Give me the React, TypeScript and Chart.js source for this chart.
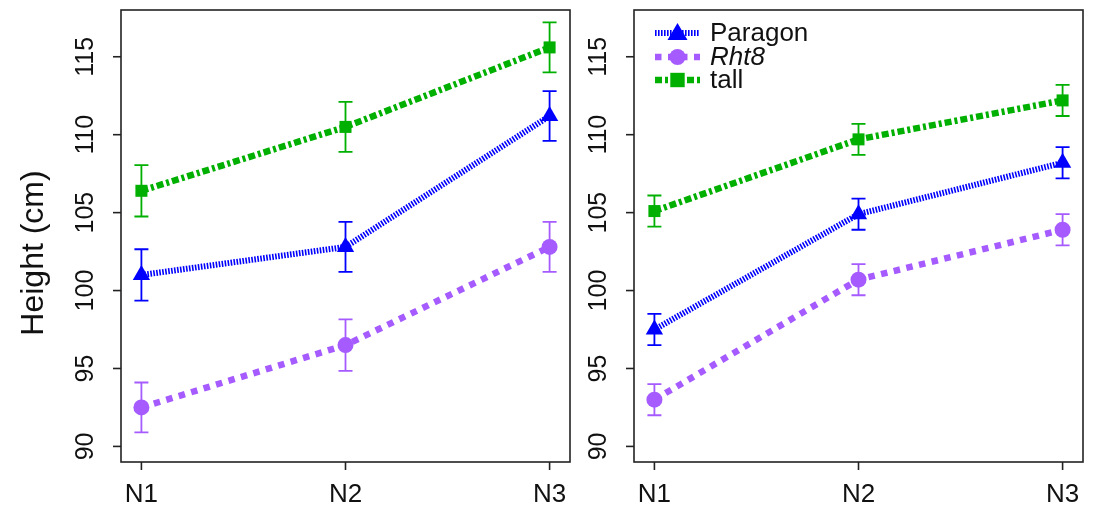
import React, { useEffect, useRef } from "react";
import { Chart, registerables } from "chart.js";
Chart.register(...registerables);

// ---------- data ----------
const categories = ["N1", "N2", "N3"];
const seriesNames = ["Paragon", "Rht8", "tall"];
const yTickValues = [90, 95, 100, 105, 110, 115];
const yLabel = "Height (cm)";

// left panel
const leftParagon = [101.0, 102.8, 111.2];
const leftParagonErr = [1.65, 1.6, 1.6];
const leftRht8 = [92.5, 96.5, 102.8];
const leftRht8Err = [1.6, 1.65, 1.6];
const leftTall = [106.4, 110.5, 115.6];
const leftTallErr = [1.65, 1.6, 1.6];

// right panel
const rightParagon = [97.5, 104.9, 108.2];
const rightParagonErr = [1.0, 1.0, 1.0];
const rightRht8 = [93.0, 100.7, 103.9];
const rightRht8Err = [1.0, 1.0, 1.0];
const rightTall = [105.1, 109.7, 112.2];
const rightTallErr = [1.0, 1.0, 1.0];

// ---------- styles ----------
const FONT = '"Liberation Sans", Arial, Helvetica, sans-serif';
const seriesStyles = [
  { color: "#0000FF", dash: [1.6, 1.4], width: 6, pointStyle: "triangle", radius: 10 },
  { color: "#A55BFF", dash: [6.5, 6.5], width: 6.5, pointStyle: "circle", radius: 8 },
  { color: "#00B000", dash: [7, 3, 3, 3], width: 6.5, pointStyle: "rect", radius: 8 },
];

function drawMarker(ctx: CanvasRenderingContext2D, style: string, x: number, y: number, r: number, color: string) {
  ctx.save();
  ctx.fillStyle = color;
  ctx.setLineDash([]);
  ctx.beginPath();
  if (style === "circle") {
    ctx.arc(x, y, r, 0, Math.PI * 2);
  } else if (style === "rect") {
    const s = r * 0.9;
    ctx.rect(x - s, y - s, 2 * s, 2 * s);
  } else {
    const h = r * 1.0;
    ctx.moveTo(x, y - h * 1.0);
    ctx.lineTo(x + h, y + h * 0.7);
    ctx.lineTo(x - h, y + h * 0.7);
    ctx.closePath();
  }
  ctx.fill();
  ctx.restore();
}

const framePlugin = {
  id: "frame",
  beforeDatasetsDraw(chart: any, _args: any, opts: any) {
    const { ctx, scales } = chart;
    const x = scales.x;
    const y = scales.y;
    ctx.save();
    chart.data.datasets.forEach((ds: any, i: number) => {
      const errs: number[] = opts.errors[i];
      ctx.strokeStyle = ds.borderColor;
      ctx.lineWidth = 1.8;
      ctx.setLineDash([]);
      ds.data.forEach((p: any, j: number) => {
        const px = x.getPixelForValue(p.x);
        const top = y.getPixelForValue(p.y + errs[j]);
        const bot = y.getPixelForValue(p.y - errs[j]);
        ctx.beginPath();
        ctx.moveTo(px, top);
        ctx.lineTo(px, bot);
        ctx.moveTo(px - 7, top);
        ctx.lineTo(px + 7, top);
        ctx.moveTo(px - 7, bot);
        ctx.lineTo(px + 7, bot);
        ctx.stroke();
      });
    });
    ctx.restore();
  },
  afterDraw(chart: any, _args: any, opts: any) {
    const { ctx, chartArea: a, scales } = chart;
    const x = scales.x;
    const y = scales.y;
    ctx.save();
    ctx.setLineDash([]);
    ctx.strokeStyle = "#222";
    ctx.lineWidth = 1.6;
    ctx.strokeRect(a.left, a.top, a.right - a.left, a.bottom - a.top);
    ctx.fillStyle = "#111";
    // y ticks
    ctx.font = `25px ${FONT}`;
    yTickValues.forEach((v) => {
      const py = y.getPixelForValue(v);
      ctx.beginPath();
      ctx.moveTo(a.left, py);
      ctx.lineTo(a.left - 8, py);
      ctx.stroke();
      ctx.save();
      ctx.translate(a.left - 28, py);
      ctx.rotate(-Math.PI / 2);
      ctx.textAlign = "center";
      ctx.textBaseline = "alphabetic";
      ctx.fillText(String(v), 0, 0);
      ctx.restore();
    });
    // x ticks
    ctx.font = `26px ${FONT}`;
    categories.forEach((c, i) => {
      const px = x.getPixelForValue(i);
      ctx.beginPath();
      ctx.moveTo(px, a.bottom);
      ctx.lineTo(px, a.bottom + 8);
      ctx.stroke();
      ctx.textAlign = "center";
      ctx.textBaseline = "alphabetic";
      ctx.fillText(c, px, 502);
    });
    if (opts.yLabel) {
      ctx.save();
      ctx.font = `32px ${FONT}`;
      ctx.translate(43, (a.top + a.bottom) / 2 + 17);
      ctx.rotate(-Math.PI / 2);
      ctx.textAlign = "center";
      ctx.textBaseline = "alphabetic";
      ctx.fillText(yLabel, 0, 0);
      ctx.restore();
    }
    if (opts.legend) {
      const x0 = a.left + 21;
      const x1 = a.left + 66;
      const rows = [33, 57, 80];
      chart.data.datasets.forEach((ds: any, i: number) => {
        const st = seriesStyles[i];
        const ry = rows[i];
        ctx.save();
        ctx.strokeStyle = st.color;
        ctx.lineWidth = st.width;
        ctx.lineCap = "butt";
        ctx.setLineDash(st.dash);
        ctx.beginPath();
        ctx.moveTo(x0, ry);
        ctx.lineTo(x1, ry);
        ctx.stroke();
        ctx.restore();
        drawMarker(ctx, st.pointStyle, (x0 + x1) / 2, ry, st.radius, st.color);
        ctx.fillStyle = "#111";
        ctx.font = `${i === 1 ? "italic " : ""}26px ${FONT}`;
        ctx.textAlign = "left";
        ctx.textBaseline = "middle";
        ctx.fillText(seriesNames[i], a.left + 76, ry + 1);
      });
    }
    ctx.restore();
  },
};

function makeDatasets(values: number[][]) {
  return values.map((vals, i) => {
    const st = seriesStyles[i];
    return {
      label: seriesNames[i],
      data: vals.map((v, j) => ({ x: j, y: v })),
      borderColor: st.color,
      backgroundColor: st.color,
      borderWidth: st.width,
      borderDash: st.dash,
      borderCapStyle: "butt",
      pointStyle: st.pointStyle,
      pointRadius: st.pointStyle === "rect" ? 8.5 : st.radius,
      pointBorderWidth: 0,
      pointBackgroundColor: st.color,
      pointBorderColor: st.color,
      showLine: true,
      tension: 0,
      fill: false,
    };
  });
}

function Panel(props: {
  values: number[][];
  errors: number[][];
  left: number;
  width: number;
  padLeft: number;
  padRight: number;
  yLabel: boolean;
  legend: boolean;
}) {
  const ref = useRef<HTMLCanvasElement | null>(null);
  useEffect(() => {
    if (!ref.current) return;
    const chart = new Chart(ref.current, {
      type: "line",
      data: { datasets: makeDatasets(props.values) as any },
      options: {
        animation: false,
        responsive: false,
        maintainAspectRatio: false,
        layout: { padding: { left: props.padLeft, right: props.padRight, top: 10, bottom: 51 } },
        scales: {
          x: { type: "linear", min: -0.1, max: 2.1, display: false },
          y: { type: "linear", min: 89, max: 118, display: false },
        },
        plugins: {
          legend: { display: false },
          tooltip: { enabled: false },
          frame: { errors: props.errors, yLabel: props.yLabel, legend: props.legend },
        } as any,
      },
      plugins: [framePlugin as any],
    });
    return () => chart.destroy();
  }, []);
  return (
    <canvas
      ref={ref}
      width={props.width}
      height={513}
      style={{ position: "absolute", left: props.left, top: 0, width: props.width, height: 513 }}
    />
  );
}

export default function App() {
  return (
    <div style={{ position: "absolute", left: 0, top: 0, width: 1093, height: 513, background: "#fff" }}>
      <Panel
        values={[leftParagon, leftRht8, leftTall]}
        errors={[leftParagonErr, leftRht8Err, leftTallErr]}
        left={0}
        width={580}
        padLeft={121}
        padRight={5}
        yLabel={true}
        legend={false}
      />
      <Panel
        values={[rightParagon, rightRht8, rightTall]}
        errors={[rightParagonErr, rightRht8Err, rightTallErr]}
        left={580}
        width={513}
        padLeft={54}
        padRight={6}
        yLabel={false}
        legend={true}
      />
    </div>
  );
}
